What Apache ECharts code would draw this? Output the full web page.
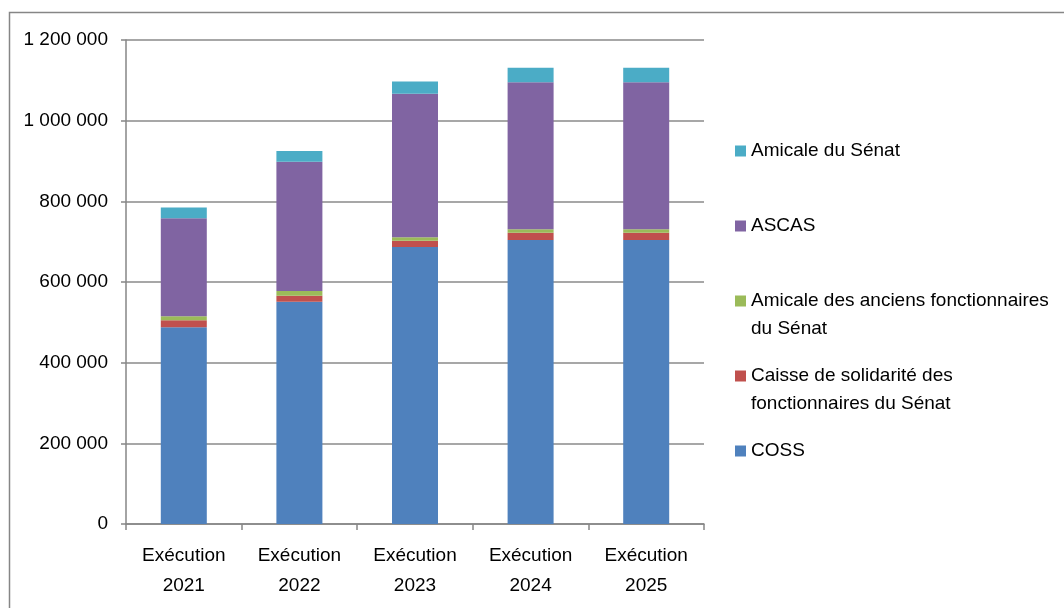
<!DOCTYPE html>
<html>
<head>
<meta charset="utf-8">
<script src="https://cdn.jsdelivr.net/npm/echarts@6/dist/echarts.min.js"></script>
<style>
html,body{margin:0;padding:0;background:#fff;}
#chart{width:1064px;height:608px;}
</style>
</head>
<body>
<div id="chart"></div>
<script>
var categories = ['Exécution\n2021', 'Exécution\n2022', 'Exécution\n2023', 'Exécution\n2024', 'Exécution\n2025'];
var coss = [488000, 551000, 687000, 704000, 704000];
var caisse = [17000, 15000, 15000, 18000, 18000];
var anciens = [10000, 11500, 9000, 9000, 9000];
var ascas = [243000, 320500, 356000, 364500, 364500];
var amicale = [27000, 26500, 30000, 35500, 35500];
var yTicks = { min: 0, max: 1200000, interval: 200000 };

var names = ['COSS', 'Caisse de solidarité des\nfonctionnaires du Sénat', 'Amicale des anciens fonctionnaires\ndu Sénat', 'ASCAS', 'Amicale du Sénat'];
var colors = ['#4F81BD', '#C0504D', '#9BBB59', '#8064A2', '#4BACC6'];
var dataSets = [coss, caisse, anciens, ascas, amicale];

var FONT = 'Liberation Sans';
var chart = echarts.init(document.getElementById('chart'));

function fmt(v) { return String(v).replace(/\B(?=(\d{3})+(?!\d))/g, ' '); }

var series = names.map(function (n, i) {
  return {
    name: n, type: 'bar', stack: 'total', barWidth: 46,
    itemStyle: { color: colors[i] },
    data: dataSets[i]
  };
});

// legend entries: top series first; icon aligned with the first text line
var legendCenters = [151, 226, 301, 376, 451];
var legendOrder = [4, 3, 2, 1, 0];
var legends = legendOrder.map(function (si, k) {
  var twoLine = names[si].indexOf('\n') >= 0;
  return {
    data: [names[si]],
    orient: 'vertical',
    left: 735,
    top: twoLine ? legendCenters[k] - 42 : legendCenters[k] - 14,
    padding: 0,
    itemWidth: 11, itemHeight: 11,
    icon: 'rect',
    selectedMode: false,
    formatter: twoLine ? function (n) { return ' \n' + n; } : null,
    textStyle: { fontFamily: FONT, fontSize: 19, color: '#000', lineHeight: 28 }
  };
});

chart.setOption({
  animation: false,
  backgroundColor: '#fff',
  graphic: [{
    type: 'rect', silent: true,
    shape: { x: 9.5, y: 12.5, width: 1200, height: 800 },
    style: { fill: 'none', stroke: '#868686', lineWidth: 1.5 }
  }],
  legend: legends,
  grid: { left: 126, right: 360, top: 40, bottom: 84 },
  xAxis: {
    type: 'category', data: categories,
    axisLine: { lineStyle: { color: '#868686', width: 1.5 } },
    axisTick: { show: true, length: 6, alignWithLabel: false, lineStyle: { color: '#868686', width: 1.5 } },
    axisLabel: { fontFamily: FONT, fontSize: 19, color: '#000', lineHeight: 30, margin: 17, interval: 0 }
  },
  yAxis: {
    type: 'value', min: yTicks.min, max: yTicks.max, interval: yTicks.interval,
    axisLine: { show: true, lineStyle: { color: '#868686', width: 1.5 } },
    axisTick: { show: true, length: 5, lineStyle: { color: '#868686', width: 1.5 } },
    splitLine: { lineStyle: { color: '#8a8a8a', width: 1.5 } },
    axisLabel: { fontFamily: FONT, fontSize: 19, color: '#000', margin: 18, formatter: fmt }
  },
  series: series
});
</script>
</body>
</html>
